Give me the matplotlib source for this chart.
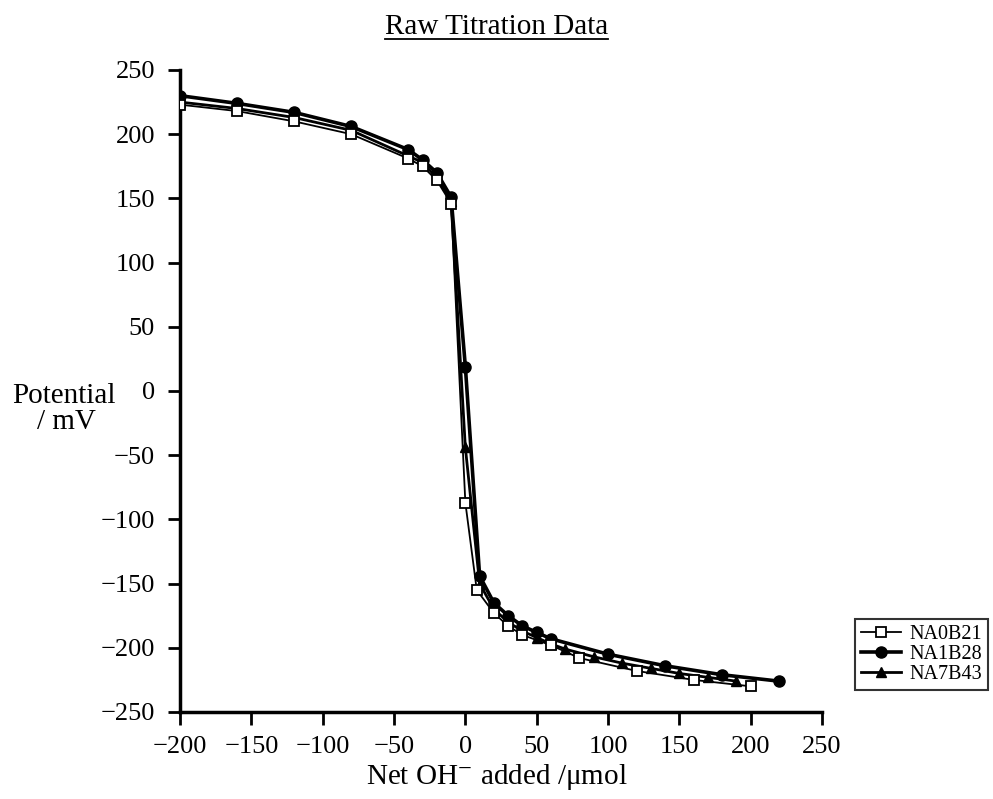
#!/usr/bin/env python3
import matplotlib
matplotlib.use("Agg")
import matplotlib.pyplot as plt

# NA0B21 (open squares)
x_na0b21 = [-200, -160, -120, -80, -40, -30, -20, -10, 0, 8, 20, 30, 40, 60, 80, 120, 160, 200]
y_na0b21 = [223, 218, 210, 200, 181, 175, 164, 146, -87, -155, -173, -183, -190, -198, -208, -218, -225, -230]

# NA1B28 (circles)
x_na1b28 = [-200, -160, -120, -80, -40, -30, -20, -10, 0, 10, 20, 30, 40, 50, 60, 100, 140, 180, 220]
y_na1b28 = [230, 224, 217, 206, 188, 180, 170, 151, 19, -144, -165, -175, -183, -188, -193, -205, -214, -221, -226]

# NA7B43 (triangles)
x_na7b43 = [-200, -160, -120, -80, -40, -30, -20, -10, 0, 10, 20, 30, 40, 50, 60, 70, 90, 110, 130, 150, 170, 190]
y_na7b43 = [225, 220, 213, 203, 183, 178, 166, 148, -44, -150, -170, -180, -187, -192, -197, -201, -207, -212, -216, -220, -223, -226]

x_ticks = [-200, -150, -100, -50, 0, 50, 100, 150, 200, 250]
y_ticks = [-250, -200, -150, -100, -50, 0, 50, 100, 150, 200, 250]

plt.rcParams["font.family"] = ["Liberation Serif", "DejaVu Serif"]
plt.rcParams["mathtext.fontset"] = "stix"

fig = plt.figure(figsize=(9.93, 7.99), dpi=100)
ax = fig.add_axes([0.1813, 0.1089, 0.6465, 0.8035])

ax.plot(x_na0b21, y_na0b21, color="black", lw=1.3, marker="s", ms=7,
        mfc="white", mec="black", mew=1.3, label="NA0B21", zorder=3)
ax.plot(x_na1b28, y_na1b28, color="black", lw=2.6, marker="o", ms=8,
        mfc="black", mec="black", label="NA1B28", zorder=2)
ax.plot(x_na7b43, y_na7b43, color="black", lw=2.0, marker="^", ms=7,
        mfc="black", mec="black", label="NA7B43", zorder=2)

ax.set_xlim(-200, 250)
ax.set_ylim(-250, 250)
ax.set_xticks(x_ticks)
ax.set_yticks(y_ticks)
ax.spines["top"].set_visible(False)
ax.spines["right"].set_visible(False)
for s in ("left", "bottom"):
    ax.spines[s].set_linewidth(2.5)
ax.tick_params(direction="out", length=9, width=2, labelsize=19)
ax.tick_params(axis="x", pad=8)
ax.tick_params(axis="y", pad=9)

fig.text(0.012, 0.505, "Potential", fontsize=21, ha="left", va="center")
fig.text(0.037, 0.472, "/ mV", fontsize=21, ha="left", va="center")
fig.text(0.50, 0.028, "Net OH$^{-}$ added /\u03bcmol", fontsize=21, ha="center",
         va="center")

title = fig.text(0.50, 0.966, "Raw Titration Data", fontsize=21, ha="center",
                 va="center")
fig.canvas.draw()
bb = title.get_window_extent().transformed(fig.transFigure.inverted())
fig.add_artist(plt.Line2D([bb.x0, bb.x1], [bb.y0 + 0.002, bb.y0 + 0.002],
                          color="black", lw=1.3, transform=fig.transFigure))

leg = fig.legend(loc="lower left", bbox_to_anchor=(0.861, 0.136),
                 fontsize=14.5, frameon=True, fancybox=False, handlelength=2.0,
                 handletextpad=0.4, borderpad=0.3, labelspacing=0.05,
                 borderaxespad=0)
leg.get_frame().set_edgecolor("black")
leg.get_frame().set_linewidth(1.5)

fig.savefig("out.png", dpi=100)
